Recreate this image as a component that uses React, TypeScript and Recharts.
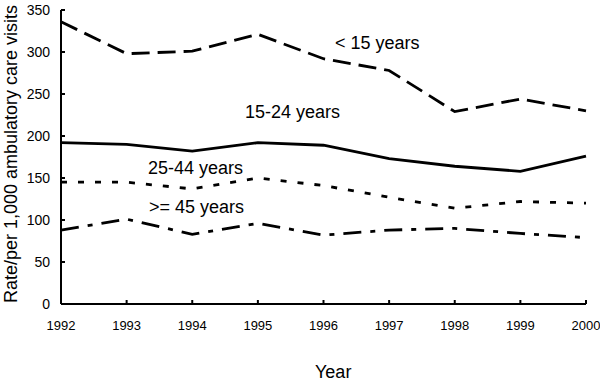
import React from 'react';
import { LineChart, Line, XAxis, YAxis, Customized } from 'recharts';

const years = [1992, 1993, 1994, 1995, 1996, 1997, 1998, 1999, 2000];
const under15 = [336, 298, 301, 321, 292, 278, 229, 244, 230];
const age15to24 = [192, 190, 182, 192, 189, 173, 164, 158, 176];
const age25to44 = [145, 145, 137, 150, 141, 127, 114, 122, 120];
const age45plus = [88, 101, 83, 96, 82, 88, 90, 84, 79];
const yTicks = [0, 50, 100, 150, 200, 250, 300, 350];

const seriesLabels = [
  { text: '< 15 years', x: 335, y: 49 },
  { text: '15-24 years', x: 245, y: 118 },
  { text: '25-44 years', x: 148, y: 174 },
  { text: '>= 45 years', x: 149, y: 213 },
];

const data = years.map((year, i) => ({
  year,
  under15: under15[i],
  age15to24: age15to24[i],
  age25to44: age25to44[i],
  age45plus: age45plus[i],
}));

const FONT = '"Liberation Sans", Arial, sans-serif';

function SeriesLabels() {
  return (
    <g>
      {seriesLabels.map((l) => (
        <text key={l.text} x={l.x} y={l.y} fontSize={18} fontFamily={FONT} fill="#000">
          {l.text}
        </text>
      ))}
      <text x={315} y={378} fontSize={18} fontFamily={FONT} fill="#000">
        Year
      </text>
      <text
        x={0}
        y={0}
        transform="translate(17, 154) rotate(-90)"
        textAnchor="middle"
        fontSize={18}
        fontFamily={FONT}
        fill="#000"
      >
        Rate/per 1,000 ambulatory care visits
      </text>
    </g>
  );
}

export default function App() {
  const lineProps = {
    type: 'linear' as const,
    stroke: '#000',
    strokeWidth: 2.8,
    dot: false,
    activeDot: false,
    isAnimationActive: false,
  };

  return (
    <div style={{ position: 'absolute', left: 0, top: 0, width: 600, height: 387, background: '#fff' }}>
      <LineChart
        width={600}
        height={387}
        data={data}
        margin={{ top: 10, right: 14, left: 0, bottom: 0 }}
      >
        <XAxis
          dataKey="year"
          type="number"
          domain={[1992, 2000]}
          ticks={years}
          height={83}
          tickSize={-4}
          tickMargin={21}
          axisLine={{ stroke: '#000', strokeWidth: 2 }}
          tickLine={{ stroke: '#000', strokeWidth: 2 }}
          tick={{ fill: '#000', fontSize: 13, fontFamily: FONT }}
        />
        <YAxis
          domain={[0, 350]}
          ticks={yTicks}
          width={61}
          tickSize={-4}
          tickMargin={15}
          axisLine={{ stroke: '#000', strokeWidth: 2 }}
          tickLine={{ stroke: '#000', strokeWidth: 2 }}
          tick={{ fill: '#000', fontSize: 14, fontFamily: FONT }}
        />
        <Line {...lineProps} dataKey="under15" strokeDasharray="18 8" />
        <Line {...lineProps} dataKey="age15to24" />
        <Line {...lineProps} dataKey="age25to44" strokeDasharray="6 11" />
        <Line {...lineProps} dataKey="age45plus" strokeDasharray="18 9 5 9" />
        <Customized component={SeriesLabels} />
      </LineChart>
    </div>
  );
}
